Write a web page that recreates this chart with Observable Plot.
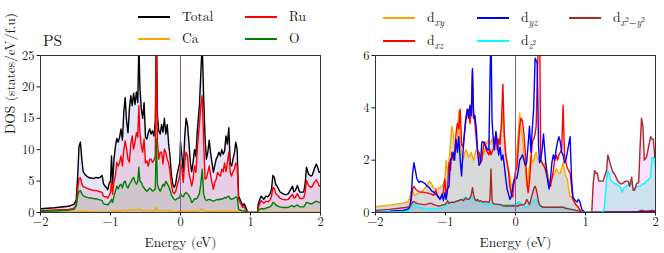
<!DOCTYPE html>
<html><head><meta charset="utf-8">
<script src="https://cdn.jsdelivr.net/npm/d3@7"></script>
<script src="https://cdn.jsdelivr.net/npm/@observablehq/plot@0.6"></script>
<style>
body{margin:0;background:#fff;}
#wrap{position:relative;width:664px;height:253px;font-family:"Latin Modern Roman","Liberation Serif",serif;color:#1a1a1a;overflow:hidden;}
.panel{position:absolute;top:0;}
.lt{position:absolute;font-size:13.5px;line-height:14px;white-space:nowrap;}
.sw{position:absolute;width:32px;height:1.6px;}
sub{font-size:10px;line-height:0;}
sub sup{font-size:7px;line-height:0;}
</style></head><body><div id="wrap"></div>
<script>
// ---------- Left panel: atom-projected DOS ----------
const energyL = [
 -2.00,-1.80,-1.60,-1.52,-1.49,-1.47,-1.45,-1.43,-1.41,-1.39,
 -1.36,-1.33,-1.30,-1.27,-1.24,-1.21,-1.18,-1.15,-1.12,-1.10,
 -1.08,-1.06,-1.04,-1.02,-1.00,-0.985,-0.97,-0.95,-0.93,-0.91,
 -0.89,-0.87,-0.85,-0.83,-0.81,-0.79,-0.77,-0.75,-0.73,-0.71,
 -0.69,-0.67,-0.65,-0.63,-0.61,-0.595,-0.58,-0.56,-0.54,-0.52,
 -0.50,-0.48,-0.46,-0.44,-0.42,-0.40,-0.38,-0.36,-0.345,-0.33,
 -0.31,-0.29,-0.27,-0.25,-0.23,-0.21,-0.19,-0.17,-0.15,-0.13,
 -0.11,-0.09,-0.07,-0.05,-0.03,-0.01,0.00,0.02,0.04,0.06,
 0.08,0.10,0.12,0.14,0.16,0.18,0.20,0.22,0.24,0.27,
 0.29,0.31,0.33,0.35,0.37,0.39,0.41,0.43,0.45,0.47,
 0.49,0.51,0.53,0.55,0.57,0.59,0.61,0.63,0.65,0.67,
 0.69,0.71,0.73,0.75,0.77,0.79,0.81,0.83,0.85,0.87,
 0.89,0.91,0.93,0.96,1.00,1.05,1.10,1.11,1.13,1.15,
 1.17,1.19,1.22,1.25,1.28,1.30,1.32,1.34,1.36,1.39,
 1.42,1.46,1.50,1.54,1.57,1.60,1.62,1.64,1.67,1.70,
 1.73,1.76,1.78,1.80,1.83,1.86,1.88,1.91,1.94,1.96,
 1.98,2.00];
const totalDOS = [
 0.6,0.75,1.0,1.3,2.0,5.5,10.5,11.2,8.5,6.5,
 6.0,5.7,5.5,5.5,5.4,5.6,5.5,5.6,5.9,4.6,
 4.2,4.0,3.6,4.6,5.0,9.0,4.5,8.5,10.5,11.8,
 11.2,12.0,13.3,11.5,16.0,18.3,14.5,12.7,16.5,18.6,
 17.0,19.0,17.2,19.2,17.5,27,20.0,16.5,15.0,17.5,
 12.0,11.7,12.7,13.3,12.5,13.0,12.2,14.5,30,15.5,
 13.0,12.5,14.0,12.8,15.0,12.5,14.0,11.0,9.0,6.0,
 4.5,4.0,4.5,6.0,7.0,8.0,11.3,9.0,6.5,12.0,
 15.0,14.0,11.2,8.0,6.5,8.0,10.0,9.0,13.0,17.0,
 22.0,27,18.6,12.2,8.5,9.6,11.5,9.5,7.9,6.4,
 7.5,8.5,9.0,9.6,9.0,10.0,9.3,9.8,12.2,10.9,
 13.5,7.9,7.4,8.5,9.5,11.2,10.0,2.6,2.1,1.6,
 1.1,1.4,0.9,0,0,0,0,1.3,2.0,2.6,
 2.4,2.1,2.6,2.5,3.0,3.7,5.9,5.6,4.5,4.0,
 3.3,3.0,2.8,3.0,3.6,4.2,3.3,3.5,4.3,3.3,
 3.2,3.3,4.5,7.2,6.1,5.8,5.9,6.9,7.7,7.2,
 6.4,6.4];
const ruDOS = [
 0.3,0.4,0.5,0.7,1.2,3.5,5.4,5.5,4.6,4.1,
 4.0,3.8,3.7,3.6,3.5,3.5,3.4,3.3,3.2,2.6,
 2.5,2.5,2.3,2.7,3.2,5.0,2.9,5.0,5.8,8.0,
 7.4,8.0,9.0,7.4,10.0,11.4,10.1,8.5,8.0,10.9,
 12.2,10.1,11.2,12.7,12.0,17.0,12.7,10.6,9.6,11.7,
 7.9,8.2,7.4,8.5,8.5,8.0,8.3,9.0,30,11.2,
 8.5,9.6,9.6,7.7,10.1,9.6,8.5,7.9,6.5,4.5,
 3.3,3.0,3.3,4.2,5.0,5.8,8.0,6.9,4.8,8.0,
 9.6,9.0,6.4,5.3,4.2,5.3,7.4,6.4,10.1,14.0,
 17.0,18.6,11.7,5.3,5.5,6.4,7.4,6.0,4.8,3.7,
 4.8,5.3,6.4,6.0,5.8,6.9,6.5,7.9,6.5,8.0,
 9.6,6.4,5.8,6.5,6.9,7.9,7.4,2.1,1.6,1.2,
 0.8,0.9,0.5,0,0,0,0,0.8,1.4,1.9,
 1.7,1.5,1.8,1.7,2.0,2.6,4.0,3.8,3.0,2.7,
 2.3,2.1,2.0,2.1,2.5,2.9,2.3,2.4,3.0,2.3,
 2.2,2.3,3.2,5.1,4.3,4.0,4.1,4.8,5.2,4.8,
 4.2,4.2];
const oDOS = [
 0.2,0.25,0.35,0.5,1.0,2.5,3.4,3.5,3.0,2.7,
 2.5,2.4,2.3,2.3,2.2,2.2,2.1,2.0,1.9,1.4,
 1.3,1.3,1.2,1.5,1.7,2.1,1.6,2.6,3.4,4.2,
 3.8,4.3,4.5,3.9,4.8,5.0,4.2,3.9,4.5,4.8,
 5.3,5.6,4.9,4.5,5.0,7.2,5.0,4.8,4.2,3.9,
 3.6,3.4,3.6,3.9,3.7,3.4,3.5,3.8,11.7,4.5,
 3.8,3.4,3.9,4.5,4.2,5.0,4.6,4.2,3.6,2.8,
 2.4,2.1,2.0,2.2,2.3,2.4,3.0,2.6,2.5,3.0,
 3.2,3.0,2.7,2.3,1.6,1.8,2.2,2.1,2.3,3.0,
 4.5,6.9,3.0,2.2,1.9,2.0,2.1,2.0,1.9,1.8,
 1.9,2.0,2.1,2.0,2.2,2.1,2.2,2.4,2.3,2.5,
 2.6,2.2,2.1,2.2,2.3,2.5,2.4,0.5,0.4,0.3,
 0.25,0.3,0.15,0,0,0,0,0.4,0.5,0.6,
 0.6,0.55,0.7,0.8,0.9,1.1,1.6,1.5,1.2,1.0,
 0.9,0.8,0.8,0.8,1.0,1.1,0.9,1.0,1.2,0.9,
 0.9,0.9,1.2,1.6,1.5,1.4,1.4,1.6,1.8,1.7,
 1.6,1.6];
const caDOS = [
 0.02,0.03,0.04,0.05,0.1,0.15,0.2,0.2,0.18,0.15,
 0.15,0.12,0.12,0.12,0.1,0.1,0.1,0.1,0.1,0.08,
 0.08,0.08,0.08,0.1,0.12,0.2,0.12,0.2,0.25,0.3,
 0.28,0.3,0.32,0.3,0.35,0.4,0.3,0.28,0.35,0.4,
 0.35,0.4,0.35,0.4,0.38,0.6,0.4,0.35,0.3,0.35,
 0.28,0.3,0.3,0.32,0.3,0.3,0.28,0.3,0.9,0.35,
 0.3,0.28,0.3,0.3,0.32,0.3,0.3,0.28,0.25,0.2,
 0.15,0.12,0.12,0.15,0.18,0.2,0.25,0.22,0.18,0.25,
 0.3,0.28,0.22,0.18,0.15,0.18,0.2,0.2,0.25,0.3,
 0.45,0.6,0.35,0.2,0.18,0.18,0.2,0.18,0.15,0.14,
 0.15,0.16,0.17,0.18,0.17,0.18,0.17,0.18,0.2,0.19,
 0.2,0.2,0.17,0.16,0.17,0.18,0.2,0.05,0.04,0.03,
 0.02,0.02,0.01,0,0,0,0,0.02,0.03,0.03,
 0.03,0.03,0.03,0.03,0.04,0.04,0.05,0.05,0.04,0.04,
 0.04,0.04,0.04,0.04,0.04,0.05,0.04,0.04,0.05,0.04,
 0.04,0.04,0.05,0.06,0.06,0.05,0.05,0.06,0.06,0.06,
 0.05,0.05];

// ---------- Right panel: Ru d-orbital DOS ----------
const energyR = [
 -2.00,-1.80,-1.60,-1.54,-1.51,-1.49,-1.47,-1.45,-1.43,-1.41,
 -1.38,-1.35,-1.32,-1.29,-1.26,-1.23,-1.20,-1.17,-1.14,-1.11,
 -1.08,-1.05,-1.03,-1.01,-0.99,-0.97,-0.95,-0.93,-0.91,-0.89,
 -0.87,-0.85,-0.83,-0.81,-0.79,-0.77,-0.75,-0.73,-0.71,-0.69,
 -0.67,-0.65,-0.63,-0.615,-0.60,-0.58,-0.56,-0.54,-0.52,-0.50,
 -0.48,-0.46,-0.44,-0.42,-0.40,-0.38,-0.365,-0.35,-0.335,-0.32,
 -0.30,-0.28,-0.26,-0.24,-0.22,-0.20,-0.18,-0.16,-0.14,-0.12,
 -0.10,-0.08,-0.06,-0.04,-0.02,0.00,0.02,0.04,0.06,0.08,
 0.10,0.12,0.14,0.16,0.18,0.20,0.22,0.24,0.26,0.28,
 0.295,0.31,0.33,0.345,0.36,0.38,0.40,0.42,0.44,0.46,
 0.48,0.50,0.52,0.54,0.56,0.58,0.60,0.62,0.64,0.66,
 0.68,0.70,0.72,0.74,0.76,0.78,0.80,0.82,0.84,0.86,
 0.88,0.90,0.92,0.95,1.00,1.05,1.09,1.11,1.13,1.15,
 1.17,1.19,1.22,1.25,1.27,1.30,1.32,1.34,1.36,1.39,
 1.42,1.46,1.50,1.52,1.55,1.58,1.61,1.63,1.66,1.68,
 1.70,1.73,1.76,1.78,1.80,1.82,1.84,1.87,1.90,1.93,
 1.95,1.97,1.99,2.00];
const dxy = [
 0.22,0.28,0.36,0.4,0.55,0.8,0.85,0.7,0.65,0.7,
 0.75,0.78,0.85,0.95,1.05,1.2,1.1,0.95,0.9,0.9,
 0.95,1.0,1.1,1.27,2.0,1.5,1.9,2.6,3.3,3.0,
 2.3,2.5,2.7,3.9,2.6,2.3,2.0,2.2,2.4,2.3,
 2.1,2.2,2.3,2.1,2.0,2.2,2.4,2.3,2.2,2.1,
 2.3,2.2,2.4,2.6,2.7,2.8,2.6,2.7,2.8,2.6,
 2.9,2.6,2.8,2.7,3.0,3.2,3.8,2.8,2.3,1.9,
 1.6,1.4,1.0,1.1,1.3,1.3,2.3,3.0,3.8,3.2,
 2.8,2.2,1.66,1.0,1.2,1.8,2.2,1.9,2.0,2.2,
 2.3,2.1,2.0,2.1,2.0,1.9,1.8,1.9,1.8,1.5,
 1.2,1.1,1.3,1.4,1.5,1.66,1.6,1.5,1.5,1.7,
 1.9,1.6,1.4,1.3,0.9,0.6,0.6,0.5,0.45,0.35,
 0.25,0.15,0.1,0.02,0,0,0,0.01,0.01,0.01,
 0.01,0.01,0.01,0.01,0.01,0.02,0.02,0.02,0.02,0.02,
 0.02,0.02,0.02,0.02,0.02,0.02,0.02,0.02,0.03,0.03,
 0.03,0.03,0.04,0.06,0.08,0.07,0.05,0.05,0.06,0.07,
 0.08,0.07,0.06,0.06];
const dyz = [
 0.02,0.04,0.08,0.12,0.2,0.6,1.5,1.9,1.6,1.3,
 1.15,1.2,1.15,1.1,1.0,0.95,0.83,0.78,0.7,0.64,
 0.5,0.7,0.45,0.75,0.5,0.9,1.0,2.0,2.1,2.3,
 2.0,2.8,2.3,2.9,2.0,1.4,2.3,3.0,3.6,3.95,
 3.6,4.1,3.7,5.5,3.6,3.7,3.2,2.3,1.8,1.9,
 2.7,2.7,2.6,2.5,2.4,2.4,5.0,7.0,3.5,2.9,
 2.4,3.1,2.7,2.2,2.5,2.0,2.2,1.8,1.3,0.9,
 0.7,0.5,0.6,1.0,1.2,1.3,1.3,1.6,2.0,2.1,
 2.2,2.0,1.8,1.9,2.6,3.3,2.3,3.2,4.0,5.9,
 5.8,5.7,2.5,1.9,2.0,2.4,3.0,2.3,1.66,1.2,
 0.9,1.3,1.9,2.2,2.0,2.4,2.7,2.9,2.7,2.3,
 2.2,1.9,2.0,2.3,2.6,2.9,1.3,0.6,0.5,0.45,
 0.4,0.5,0.4,0.1,0,0,0,0.01,0.01,0.01,
 0.01,0.01,0.01,0.01,0.01,0.01,0.01,0.01,0.01,0.01,
 0.01,0.01,0.01,0.01,0.01,0.01,0.01,0.01,0.01,0.01,
 0.01,0.01,0.02,0.02,0.03,0.03,0.02,0.02,0.02,0.03,
 0.03,0.03,0.02,0.02];
const dxz = [
 0.02,0.04,0.08,0.12,0.2,0.5,0.9,1.0,0.9,0.85,
 0.8,0.78,0.78,0.75,0.75,0.72,0.7,0.65,0.85,0.6,
 0.55,0.6,0.8,1.27,0.6,1.0,1.9,1.6,2.3,2.0,
 2.2,3.0,3.4,3.2,3.95,2.6,2.5,3.0,3.5,3.8,
 3.95,3.4,4.0,5.4,3.95,3.4,2.8,2.3,2.3,1.9,
 2.0,2.5,2.7,2.4,2.3,2.2,2.4,2.2,2.3,2.4,
 2.6,3.0,2.4,2.8,2.6,3.5,4.9,3.0,2.2,1.9,
 1.6,1.0,0.7,0.6,1.2,1.6,1.7,2.5,3.3,3.6,
 3.5,3.0,2.3,1.3,0.76,1.2,2.0,2.7,2.8,3.0,
 3.3,5.0,7.0,7.0,2.0,1.9,1.8,1.7,1.5,1.3,
 1.1,1.0,1.3,1.6,2.0,2.2,2.0,2.2,2.3,2.4,
 4.1,2.2,1.9,1.7,1.6,1.5,1.0,0.5,0.4,0.3,
 0.25,0.2,0.1,0.03,0,0,0,0.01,0.01,0.01,
 0.01,0.01,0.01,0.01,0.01,0.02,0.02,0.02,0.02,0.02,
 0.02,0.02,0.02,0.02,0.02,0.02,0.02,0.02,0.03,0.03,
 0.03,0.03,0.04,0.06,0.08,0.07,0.05,0.05,0.06,0.07,
 0.08,0.07,0.06,0.06];
const dz2 = [
 0.01,0.02,0.03,0.05,0.1,0.2,0.3,0.33,0.28,0.22,
 0.2,0.18,0.16,0.15,0.14,0.14,0.14,0.13,0.14,0.15,
 0.15,0.18,0.2,0.27,0.25,0.3,0.35,0.4,0.38,0.4,
 0.42,0.4,0.45,0.45,0.48,0.5,0.5,0.55,0.6,0.55,
 0.5,0.55,0.6,0.6,0.5,0.45,0.5,0.45,0.4,0.38,
 0.35,0.33,0.32,0.3,0.3,0.3,0.32,0.35,0.3,0.3,
 0.3,0.3,0.28,0.3,0.32,0.3,0.3,0.28,0.3,0.3,
 0.28,0.3,0.3,0.3,0.32,0.3,0.35,0.4,0.4,0.35,
 0.3,0.25,0.22,0.2,0.25,0.3,0.4,0.38,0.45,0.5,
 0.5,0.45,0.3,0.25,0.22,0.2,0.2,0.2,0.2,0.2,
 0.18,0.2,0.2,0.2,0.2,0.2,0.22,0.2,0.2,0.2,
 0.2,0.2,0.18,0.16,0.15,0.14,0.12,0.1,0.1,0.08,
 0.07,0.06,0.05,0.02,0,0,0,0,0,0,
 0,0,0,0.02,0.2,1.2,1.6,1.5,1.25,1.15,
 1.1,1.05,0.97,0.77,0.95,1.0,1.05,1.1,1.1,0.9,
 0.9,1.0,1.0,1.0,1.05,1.1,1.1,1.2,1.25,1.35,
 2.1,2.1,1.9,1.7];
const dx2y2 = [
 0.08,0.12,0.18,0.2,0.25,0.3,0.4,0.42,0.38,0.35,
 0.33,0.32,0.3,0.3,0.32,0.35,0.35,0.3,0.28,0.25,
 0.25,0.28,0.3,0.3,0.35,0.45,0.35,0.38,0.4,0.38,
 0.4,0.42,0.45,0.45,0.48,0.5,0.45,0.5,0.55,0.5,
 0.5,0.55,0.7,0.95,0.7,0.5,0.45,0.5,0.42,0.45,
 0.42,0.4,0.42,0.4,0.4,0.38,0.5,1.66,0.45,0.35,
 0.33,0.32,0.32,0.3,0.3,0.28,0.26,0.25,0.25,0.26,
 0.25,0.25,0.25,0.26,0.25,0.25,0.25,0.25,0.28,0.3,
 0.28,0.3,0.35,0.5,0.4,0.3,0.5,0.7,0.9,1.0,
 0.9,0.7,0.4,0.3,0.25,0.22,0.2,0.2,0.2,0.2,
 0.2,0.2,0.2,0.2,0.2,0.2,0.2,0.2,0.2,0.2,
 0.2,0.18,0.16,0.15,0.14,0.13,0.12,0.1,0.1,0.08,
 0.07,0.06,0.05,0.02,0,0,0,1.1,1.6,1.5,
 1.5,1.2,1.2,1.2,1.35,1.6,2.2,2.0,1.8,1.55,
 1.45,1.2,1.1,1.1,1.15,1.2,1.2,1.0,1.35,0.85,
 0.85,1.1,1.15,2.5,3.6,3.3,2.0,2.1,2.5,2.9,
 2.8,2.8,2.1,2.1];

const xTicks = [-2,-1,0,1,2];
const yTicksL = [0,5,10,15,20,25];
const yTicksR = [0,2,4,6];

const dataL = energyL.map((e,i)=>({e, total:totalDOS[i], ru:ruDOS[i], o:oDOS[i], ca:caDOS[i]}));
const dataR = energyR.map((e,i)=>({e, dxy:dxy[i], dyz:dyz[i], dxz:dxz[i], dz2:dz2[i], dx2:dx2y2[i]}));

const font = '"Latin Modern Roman","Liberation Serif",serif';
const common = {
  width:332, height:253, marginTop:55, marginBottom:41,
  style:{fontFamily:font, fontSize:"12.5px", color:"#1a1a1a", background:"transparent", overflow:"visible"}
};
const fmt = d3.format("d");
const sw = 1.4;
const axisOpts = (ticks) => ({ticks, tickSize:3.5, tickFormat:fmt, label:null});

const left = Plot.plot({
  ...common, marginLeft:40, marginRight:12,
  x:{domain:[-2,2], ...axisOpts(xTicks), tickPadding:1.5},
  y:{domain:[0,25], ...axisOpts(yTicksL), tickPadding:2.5},
  marks:[
    Plot.areaY(dataL,{x:"e", y:"total", fill:"blue", fillOpacity:0.1, clip:true}),
    Plot.areaY(dataL,{x:"e", y:"ru", fill:"red", fillOpacity:0.1, clip:true}),
    Plot.areaY(dataL,{x:"e", y:"o", fill:"green", fillOpacity:0.1, clip:true}),
    Plot.lineY(dataL,{x:"e", y:"total", stroke:"black", strokeWidth:sw, clip:true}),
    Plot.lineY(dataL,{x:"e", y:"ca", stroke:"orange", strokeWidth:sw, clip:true}),
    Plot.lineY(dataL,{x:"e", y:"ru", stroke:"red", strokeWidth:sw, clip:true}),
    Plot.lineY(dataL,{x:"e", y:"o", stroke:"green", strokeWidth:sw, clip:true}),
    Plot.ruleX([0],{stroke:"#8a5a9c", strokeWidth:1}),
    Plot.frame({stroke:"#333"}),
    Plot.text(["Energy (eV)"],{frameAnchor:"bottom", lineAnchor:"middle", dy:30.5, fontSize:13.5, fill:"#1a1a1a"}),
    Plot.text(["DOS (states/eV/f.u)"],{frameAnchor:"left", lineAnchor:"middle", rotate:-90, dx:-30, fontSize:13.5, fill:"#1a1a1a"})
  ]
});

const right = Plot.plot({
  ...common, marginLeft:43, marginRight:9,
  x:{domain:[-2,2], ...axisOpts(xTicks), tickPadding:1.5},
  y:{domain:[0,6], ...axisOpts(yTicksR), tickPadding:2.5},
  marks:[
    Plot.areaY(dataR,{x:"e", y1:"dz2", y2:"dx2", fill:"magenta", fillOpacity:0.12, clip:true}),
    Plot.areaY(dataR,{x:"e", y:"dxy", fill:"gray", fillOpacity:0.3, clip:true}),
    Plot.areaY(dataR,{x:"e", y:"dz2", fill:"#1f77b4", fillOpacity:0.22, clip:true}),
    Plot.lineY(dataR,{x:"e", y:"dxy", stroke:"orange", strokeWidth:sw, clip:true}),
    Plot.lineY(dataR,{x:"e", y:"dxz", stroke:"red", strokeWidth:sw, clip:true}),
    Plot.lineY(dataR,{x:"e", y:"dyz", stroke:"blue", strokeWidth:sw, clip:true}),
    Plot.lineY(dataR,{x:"e", y:"dz2", stroke:"cyan", strokeWidth:sw, clip:true}),
    Plot.lineY(dataR,{x:"e", y:"dx2", stroke:"brown", strokeWidth:sw, clip:true}),
    Plot.ruleX([0],{stroke:"#8a5a9c", strokeWidth:1}),
    Plot.frame({stroke:"#333"}),
    Plot.text(["Energy (eV)"],{frameAnchor:"bottom", lineAnchor:"middle", dy:30.5, fontSize:13.5, fill:"#1a1a1a"})
  ]
});

const wrap = document.getElementById("wrap");
function place(el, x){ el.classList.add("panel"); el.style.left = x+"px"; wrap.appendChild(el); }
place(left, 0);
place(right, 332);

function legend(items){
  for (const it of items){
    const s = document.createElement("div");
    s.className = "sw"; s.style.left = it.x+"px"; s.style.top = (it.y-0.8)+"px"; s.style.background = it.color;
    wrap.appendChild(s);
    const t = document.createElement("div");
    t.className = "lt"; t.style.left = (it.x+44)+"px"; t.style.top = (it.y-8)+"px"; t.innerHTML = it.label;
    wrap.appendChild(t);
  }
}
legend([
  {x:138, y:17, color:"black", label:"Total"},
  {x:245, y:17, color:"red", label:"Ru"},
  {x:138, y:39, color:"orange", label:"Ca"},
  {x:245, y:39, color:"green", label:"O"},
  {x:383, y:18, color:"orange", label:"d<sub><i>xy</i></sub>"},
  {x:477, y:18, color:"blue", label:"d<sub><i>yz</i></sub>"},
  {x:569, y:18, color:"brown", label:"d<sub><i>x</i><sup>2</sup>−<i>y</i><sup>2</sup></sub>"},
  {x:383, y:41, color:"red", label:"d<sub><i>xz</i></sub>"},
  {x:477, y:41, color:"cyan", label:"d<sub><i>z</i><sup>2</sup></sub>"}
]);
const ps = document.createElement("div");
ps.className = "lt"; ps.style.left = "43px"; ps.style.top = "33px"; ps.style.fontSize = "15.5px"; ps.textContent = "PS";
wrap.appendChild(ps);
</script></body></html>
